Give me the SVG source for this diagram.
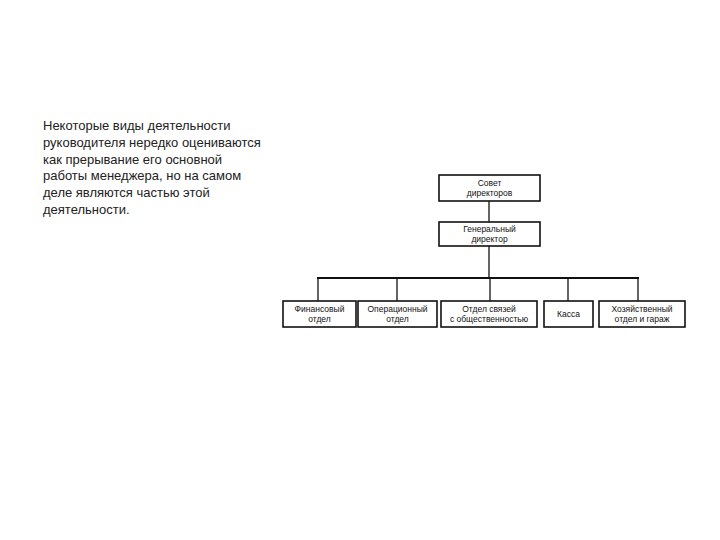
<svg xmlns="http://www.w3.org/2000/svg" width="720" height="540" viewBox="0 0 720 540">
<style>
.para{font-family:"Liberation Sans",Arial,sans-serif;font-size:13px;fill:#222}
.box{fill:#fff;stroke:#111;stroke-width:1.6}
.lbl{font-family:"Liberation Sans",Arial,sans-serif;font-size:8.5px;fill:#111;text-anchor:middle}
.ln{stroke:#111;stroke-width:1.3;fill:none}
.bar{stroke:#111;stroke-width:2.2;fill:none}
</style>
<rect width="720" height="540" fill="#fff"/>
<g id="text">
<text class="para" x="43" y="130">Некоторые виды деятельности</text>
<text class="para" x="43" y="147">руководителя нередко оцениваются</text>
<text class="para" x="43" y="164">как прерывание его основной</text>
<text class="para" x="43" y="180">работы менеджера, но на самом</text>
<text class="para" x="43" y="197">деле являются частью этой</text>
<text class="para" x="43" y="214">деятельности.</text>
</g>
<g id="connectors">
<line class="ln" x1="489" y1="201" x2="489" y2="222"/>
<line class="ln" x1="489" y1="246" x2="489" y2="278"/>
<line class="bar" x1="317" y1="278" x2="639" y2="278"/>
<line class="ln" x1="318" y1="278" x2="318" y2="301"/>
<line class="ln" x1="397" y1="278" x2="397" y2="301"/>
<line class="ln" x1="490" y1="278" x2="490" y2="301"/>
<line class="ln" x1="568" y1="278" x2="568" y2="301"/>
<line class="ln" x1="638" y1="278" x2="638" y2="301"/>
</g>
<g id="board">
<rect class="box" x="439" y="175" width="101" height="26"/>
<text class="lbl" x="489.5" y="186">Совет</text>
<text class="lbl" x="489.5" y="196">директоров</text>
</g>
<g id="ceo">
<rect class="box" x="439" y="222" width="101" height="24"/>
<text class="lbl" x="489.5" y="232">Генеральный</text>
<text class="lbl" x="489.5" y="242">директор</text>
</g>
<g id="finance">
<rect class="box" x="283" y="301" width="73" height="26"/>
<text class="lbl" x="319.5" y="312">Финансовый</text>
<text class="lbl" x="319.5" y="322">отдел</text>
</g>
<g id="operations">
<rect class="box" x="358" y="301" width="79" height="26"/>
<text class="lbl" x="397.5" y="312">Операционный</text>
<text class="lbl" x="397.5" y="322">отдел</text>
</g>
<g id="pr">
<rect class="box" x="441" y="301" width="96" height="26"/>
<text class="lbl" x="489" y="312">Отдел связей</text>
<text class="lbl" x="489" y="322">с общественностью</text>
</g>
<g id="cash">
<rect class="box" x="544" y="301" width="49" height="26"/>
<text class="lbl" x="568.5" y="317">Касса</text>
</g>
<g id="maintenance">
<rect class="box" x="599" y="301" width="86" height="26"/>
<text class="lbl" x="642" y="312">Хозяйственный</text>
<text class="lbl" x="642" y="322">отдел и гараж</text>
</g>
</svg>
